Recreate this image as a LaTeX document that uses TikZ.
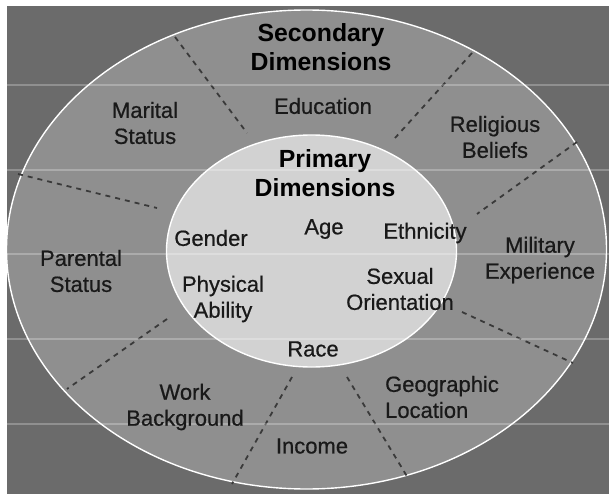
\documentclass[tikz,border=0pt]{standalone}
\usepackage{fontspec}
\setmainfont{Liberation Sans}
\newfontfamily\itemfont{Liberation Sans}[FakeBold=0.6]
\definecolor{backgray}{HTML}{6B6B6B}
\definecolor{ringgray}{HTML}{8F8F8F}
\definecolor{coregray}{HTML}{D2D2D2}
\definecolor{dashgray}{HTML}{3A3A3A}
\usetikzlibrary{positioning}

\begin{document}
\begin{tikzpicture}[x=0.5pt,y=-0.5pt,
  title/.style={font=\fontsize{12.4}{14.6}\selectfont\bfseries,align=center,inner sep=0pt},
  item/.style={font=\fontsize{11}{13}\selectfont\itemfont,align=center,inner sep=0pt,text=black!90},
  divider/.style={dashgray,line width=0.9pt,dash pattern=on 2.5pt off 2.5pt}]
\useasboundingbox (0,0) rectangle (609,497);
\fill[backgray] (7,6) rectangle (609,494);
\coordinate (O) at (306.5,249.5);
\coordinate (I) at (311.5,251);
% outer ring
\draw[white,line width=0.7pt,fill=ringgray] (O) ellipse [x radius=300, y radius=239.5];
\draw[divider] (175,37) -- (247,133);
\draw[divider] (472,53) -- (395,138);
\draw[divider] (577,142) -- (477,214);
\draw[divider] (462,312) -- (573,363);
\draw[divider] (347,377) -- (408,478);
\draw[divider] (292,377) -- (232,484);
\draw[divider] (167,319) -- (67,389);
\draw[divider] (18,174) -- (157,208);
% inner core
\draw[white,line width=0.7pt,fill=coregray] (I) ellipse [x radius=145, y radius=116];
\foreach \y in {85,170,254,339,424}
  \draw[white,opacity=0.25,line width=0.6pt] (7,\y) -- (609,\y);

\node[title] (sec) at (321,47) {Secondary\\Dimensions};
\node[title] (prim) at (325,173) {Primary\\Dimensions};

\node[item] (edu) at (323,106) {Education};
\node[item] (mar) at (145,123) {Marital\\Status};
\node[item] (rel) at (495,137) {Religious\\Beliefs};
\node[item] (par) at (81,271) {Parental\\Status};
\node[item] (mil) at (540,260) {Military\\Experience};
\node[item] (work) at (185,407) {Work\\Background};
\node[item,align=left] (geo) at (442,397) {Geographic\\Location};
\node[item] (inc) at (312,446) {Income};

\node[item] (age) at (324,229) {Age};
\node[item] (gen) at (211,238) {Gender};
\node[item] (eth) at (425,233) {Ethnicity};
\node[item] (phys) at (223,299) {Physical\\Ability};
\node[item] (sex) at (400,289) {Sexual\\Orientation};
\node[item] (race) at (313,349) {Race};
\end{tikzpicture}
\end{document}
